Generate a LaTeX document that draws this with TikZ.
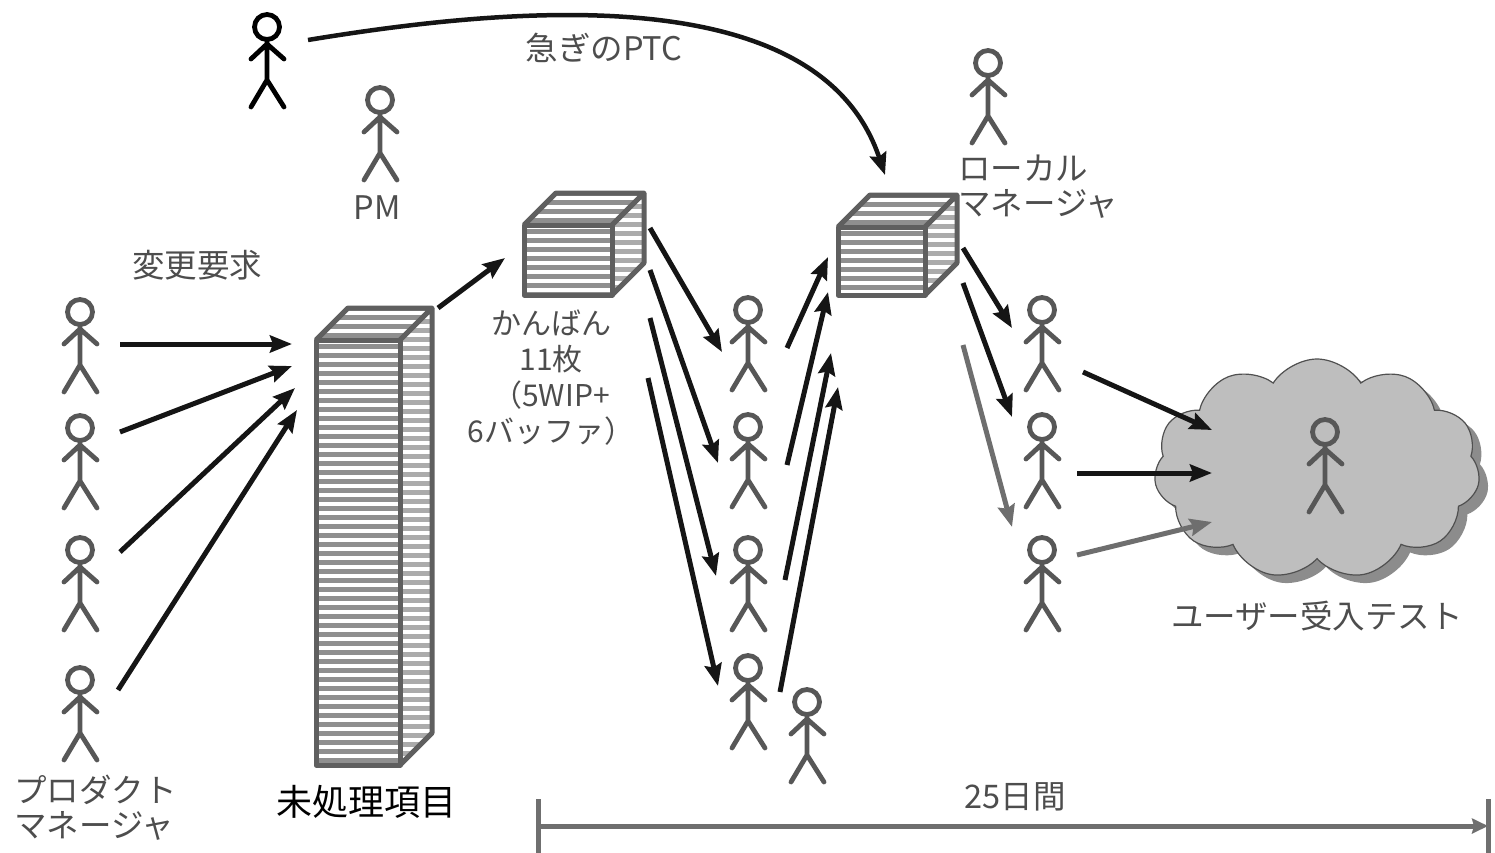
\documentclass[tikz,border=0pt]{standalone}
\usepackage{fontspec}
\newfontfamily\jp{Noto Sans CJK JP}
\usetikzlibrary{arrows.meta,calc,shapes.symbols}

\definecolor{figgray}{HTML}{575757}
\definecolor{arrowblack}{HTML}{151515}
\definecolor{graylink}{HTML}{6E6E6E}
\definecolor{boxedge}{HTML}{5F5F5F}
\definecolor{stripegray}{HTML}{8F8F8F}
\definecolor{sidestripe}{HTML}{ABABAB}
\definecolor{cloudfill}{HTML}{BEBEBE}
\definecolor{cloudshadow}{HTML}{8C8C8C}
\definecolor{cloudedge}{HTML}{505050}
\definecolor{textgray}{HTML}{4D4D4D}
\definecolor{timegray}{HTML}{6F6F6F}

\tikzset{
  stick/.pic={
    \draw[pic actions, line width=4.8pt, line cap=round, line join=round]
      (0,0) circle[radius=12.5pt]
      (0,12.5) -- (0,53)
      (-16,32) -- (0,17) -- (17,32)
      (-16,80) -- (0,53) -- (17,80);
  },
  flow/.style={line width=5pt, draw=arrowblack,
    -{Stealth[length=22pt,width=17pt,inset=3pt]}},
  grayflow/.style={flow, draw=graylink},
  lbl/.style={font=\jp\fontsize{32.5}{35}\selectfont, text=textgray, inner sep=0pt},
  frontstripe/.style={draw=stripegray, line width=5pt},
  sidestripes/.style={draw=sidestripe, line width=5pt},
  boxline/.style={draw=boxedge, line width=5pt, line join=round},
  timeline/.style={draw=timegray, line width=5pt},
  uatcloud/.style={cloud, cloud puffs=11, cloud puff arc=115, aspect=1.5,
    minimum width=326pt, minimum height=220pt, inner sep=0pt},
}

% striped card box: #1 name, #2,#3 front top-left corner, #4 width, #5 height, #6 depth
\newcommand\stripedbox[6]{%
  \coordinate (#1) at (#2,#3);
  \pgfmathtruncatemacro\nfront{#5/9}
  \pgfmathtruncatemacro\nside{(#5+#6)/9}
  \begin{scope}
    \clip (#2,#3) rectangle ++(#4,#5);
    \fill[white] (#2,#3) rectangle ++(#4,#5);
    \foreach \i in {0,...,\nfront} \draw[frontstripe] (#2,#3+6+9*\i) -- ++(#4,0);
  \end{scope}
  \begin{scope}
    \clip (#2,#3) -- ++(#6,-#6) -- ++(#4,0) -- ++(-#6,#6) -- cycle;
    \fill[white] (#2,#3) -- ++(#6,-#6) -- ++(#4,0) -- ++(-#6,#6) -- cycle;
    \foreach \i in {0,...,3} \draw[frontstripe] (#2,#3-5-9*\i) -- ++(#4+#6,0);
  \end{scope}
  \begin{scope}
    \clip (#2+#4,#3) -- ++(#6,-#6) -- ++(0,#5) -- ++(-#6,#6) -- cycle;
    \fill[white] (#2+#4,#3) -- ++(#6,-#6) -- ++(0,#5) -- ++(-#6,#6) -- cycle;
    \foreach \i in {0,...,\nside} \draw[sidestripes] (#2+#4,#3-#6+4+9*\i) -- ++(#6,0);
  \end{scope}
  \draw[boxline] (#2,#3) rectangle ++(#4,#5);
  \draw[boxline] (#2,#3) -- ++(#6,-#6) -- ++(#4,0) -- ++(-#6,#6);
  \draw[boxline] (#2+#4+#6,#3-#6) -- ++(0,#5) -- ++(-#6,#6);
}

\begin{document}
\begin{tikzpicture}[x=1pt,y=-1pt]
\useasboundingbox (0,0) rectangle (1495,853);

% boxes of cards: backlog and the two kanban stages
\stripedbox{backlog}{316}{340}{84}{425}{32}
\stripedbox{kb1}{524}{225}{88}{70}{32}
\stripedbox{kb2}{838}{227}{87}{68}{32}

% user acceptance test cloud with its shadow
\node[uatcloud, fill=cloudshadow] at (1326,477) {};
\node[uatcloud, fill=cloudfill, draw=cloudedge, line width=1.2pt] (uat) at (1317,469) {};

% people
\coordinate (pm1) at (80,312);
\coordinate (pm2) at (80,428);
\coordinate (pm3) at (80,550);
\coordinate (pm4) at (80,680);
\coordinate (urgent) at (267,27);
\coordinate (pmfig) at (380,100);
\coordinate (local) at (988,63);
\coordinate (dev1) at (748,310);
\coordinate (dev2) at (748,427);
\coordinate (dev3) at (748,550);
\coordinate (dev4) at (748,668);
\coordinate (dev5) at (807,702);
\coordinate (tst1) at (1042,310);
\coordinate (tst2) at (1042,427);
\coordinate (tst3) at (1042,550);
\coordinate (user) at (1325,432);

\foreach \p in {pm1,pm2,pm3,pm4,pmfig,local,dev1,dev2,dev3,dev4,dev5,tst1,tst2,tst3,user}
  \pic[draw=figgray] at (\p) {stick};
\pic[draw=black] at (urgent) {stick};

% change requests into the backlog
\draw[flow] ($(pm1)+(40,32)$) -- ($(backlog)+(-24,4)$);
\draw[flow] ($(pm2)+(40,4)$) -- ($(backlog)+(-24,26)$);
\draw[flow] ($(pm3)+(40,2)$) -- ($(backlog)+(-21,48)$);
\draw[flow] ($(pm4)+(38,10)$) -- ($(backlog)+(-19,70)$);
\draw[flow] ($(backlog)+(122,-32)$) -- ($(kb1)+(-19,33)$);

% development stage
\draw[flow] ($(kb1)+(126,3)$) -- ($(dev1)+(-26,42)$);
\draw[flow] ($(kb1)+(126,45)$) -- ($(dev2)+(-30,36)$);
\draw[flow] ($(kb1)+(126,93)$) -- ($(dev3)+(-32,26)$);
\draw[flow] ($(kb1)+(124,153)$) -- ($(dev4)+(-30,18)$);
\draw[flow] ($(dev1)+(39,38)$) -- ($(kb2)+(-10,30)$);
\draw[flow] ($(dev2)+(39,38)$) -- ($(kb2)+(-10,65)$);
\draw[flow] ($(dev3)+(37,30)$) -- ($(kb2)+(-7,126)$);
\draw[flow] ($(dev4)+(32,24)$) -- ($(kb2)+(0,160)$);

% test stage
\draw[flow] ($(kb2)+(125,21)$) -- ($(tst1)+(-30,18)$);
\draw[flow] ($(kb2)+(125,56)$) -- ($(tst2)+(-30,-10)$);
\draw[grayflow] ($(kb2)+(125,118)$) -- ($(tst3)+(-30,-23)$);
\draw[flow] ($(tst1)+(41,62)$) -- ($(uat)+(-105,-39)$);
\draw[flow] ($(tst2)+(35,46)$) -- ($(uat)+(-105,4)$);
\draw[grayflow] ($(tst3)+(35,5)$) -- ($(uat)+(-105,53)$);

% urgent request bypassing the queue
\draw[flow, line width=4.5pt] ($(urgent)+(41,13)$) .. controls (520,5) and (820,-20) .. ($(kb2)+(47,-52)$);

% lead time scale
\coordinate (t0) at (538,826);
\coordinate (t1) at (1488,826);
\draw[timeline] ($(t0)+(0,-27)$) -- ($(t0)+(0,27)$);
\draw[timeline] ($(t1)+(0,-27)$) -- ($(t1)+(0,27)$);
\draw[timeline, -{Stealth[length=16pt,width=15pt,inset=2pt]}] (t0) -- (t1);

% labels
\node[lbl] (lblptc) at (604,48) {急ぎのPTC};
\node[lbl] (lblpm) at (377,208) {PM};
\node[lbl, anchor=west, align=left] (lbllocal) at (958,187) {ローカル\\マネージャ};
\node[lbl] (lblreq) at (197,265) {変更要求};
\node[lbl, align=center, font=\jp\fontsize{30}{36}\selectfont] (lblkanban) at (551,378)
  {かんばん\\11枚\\（5WIP+\\6バッファ）};
\node[lbl, anchor=west, align=left] (lblpmgr) at (14,808) {プロダクト\\マネージャ};
\node[inner sep=0pt, font=\jp\fontsize{36}{40}\selectfont, text=black] (lblbacklog) at (366,802) {未処理項目};
\node[lbl] (lbluat) at (1317,616) {ユーザー受入テスト};
\node[lbl] (lbldays) at (1015,797) {25日間};
\end{tikzpicture}
\end{document}
